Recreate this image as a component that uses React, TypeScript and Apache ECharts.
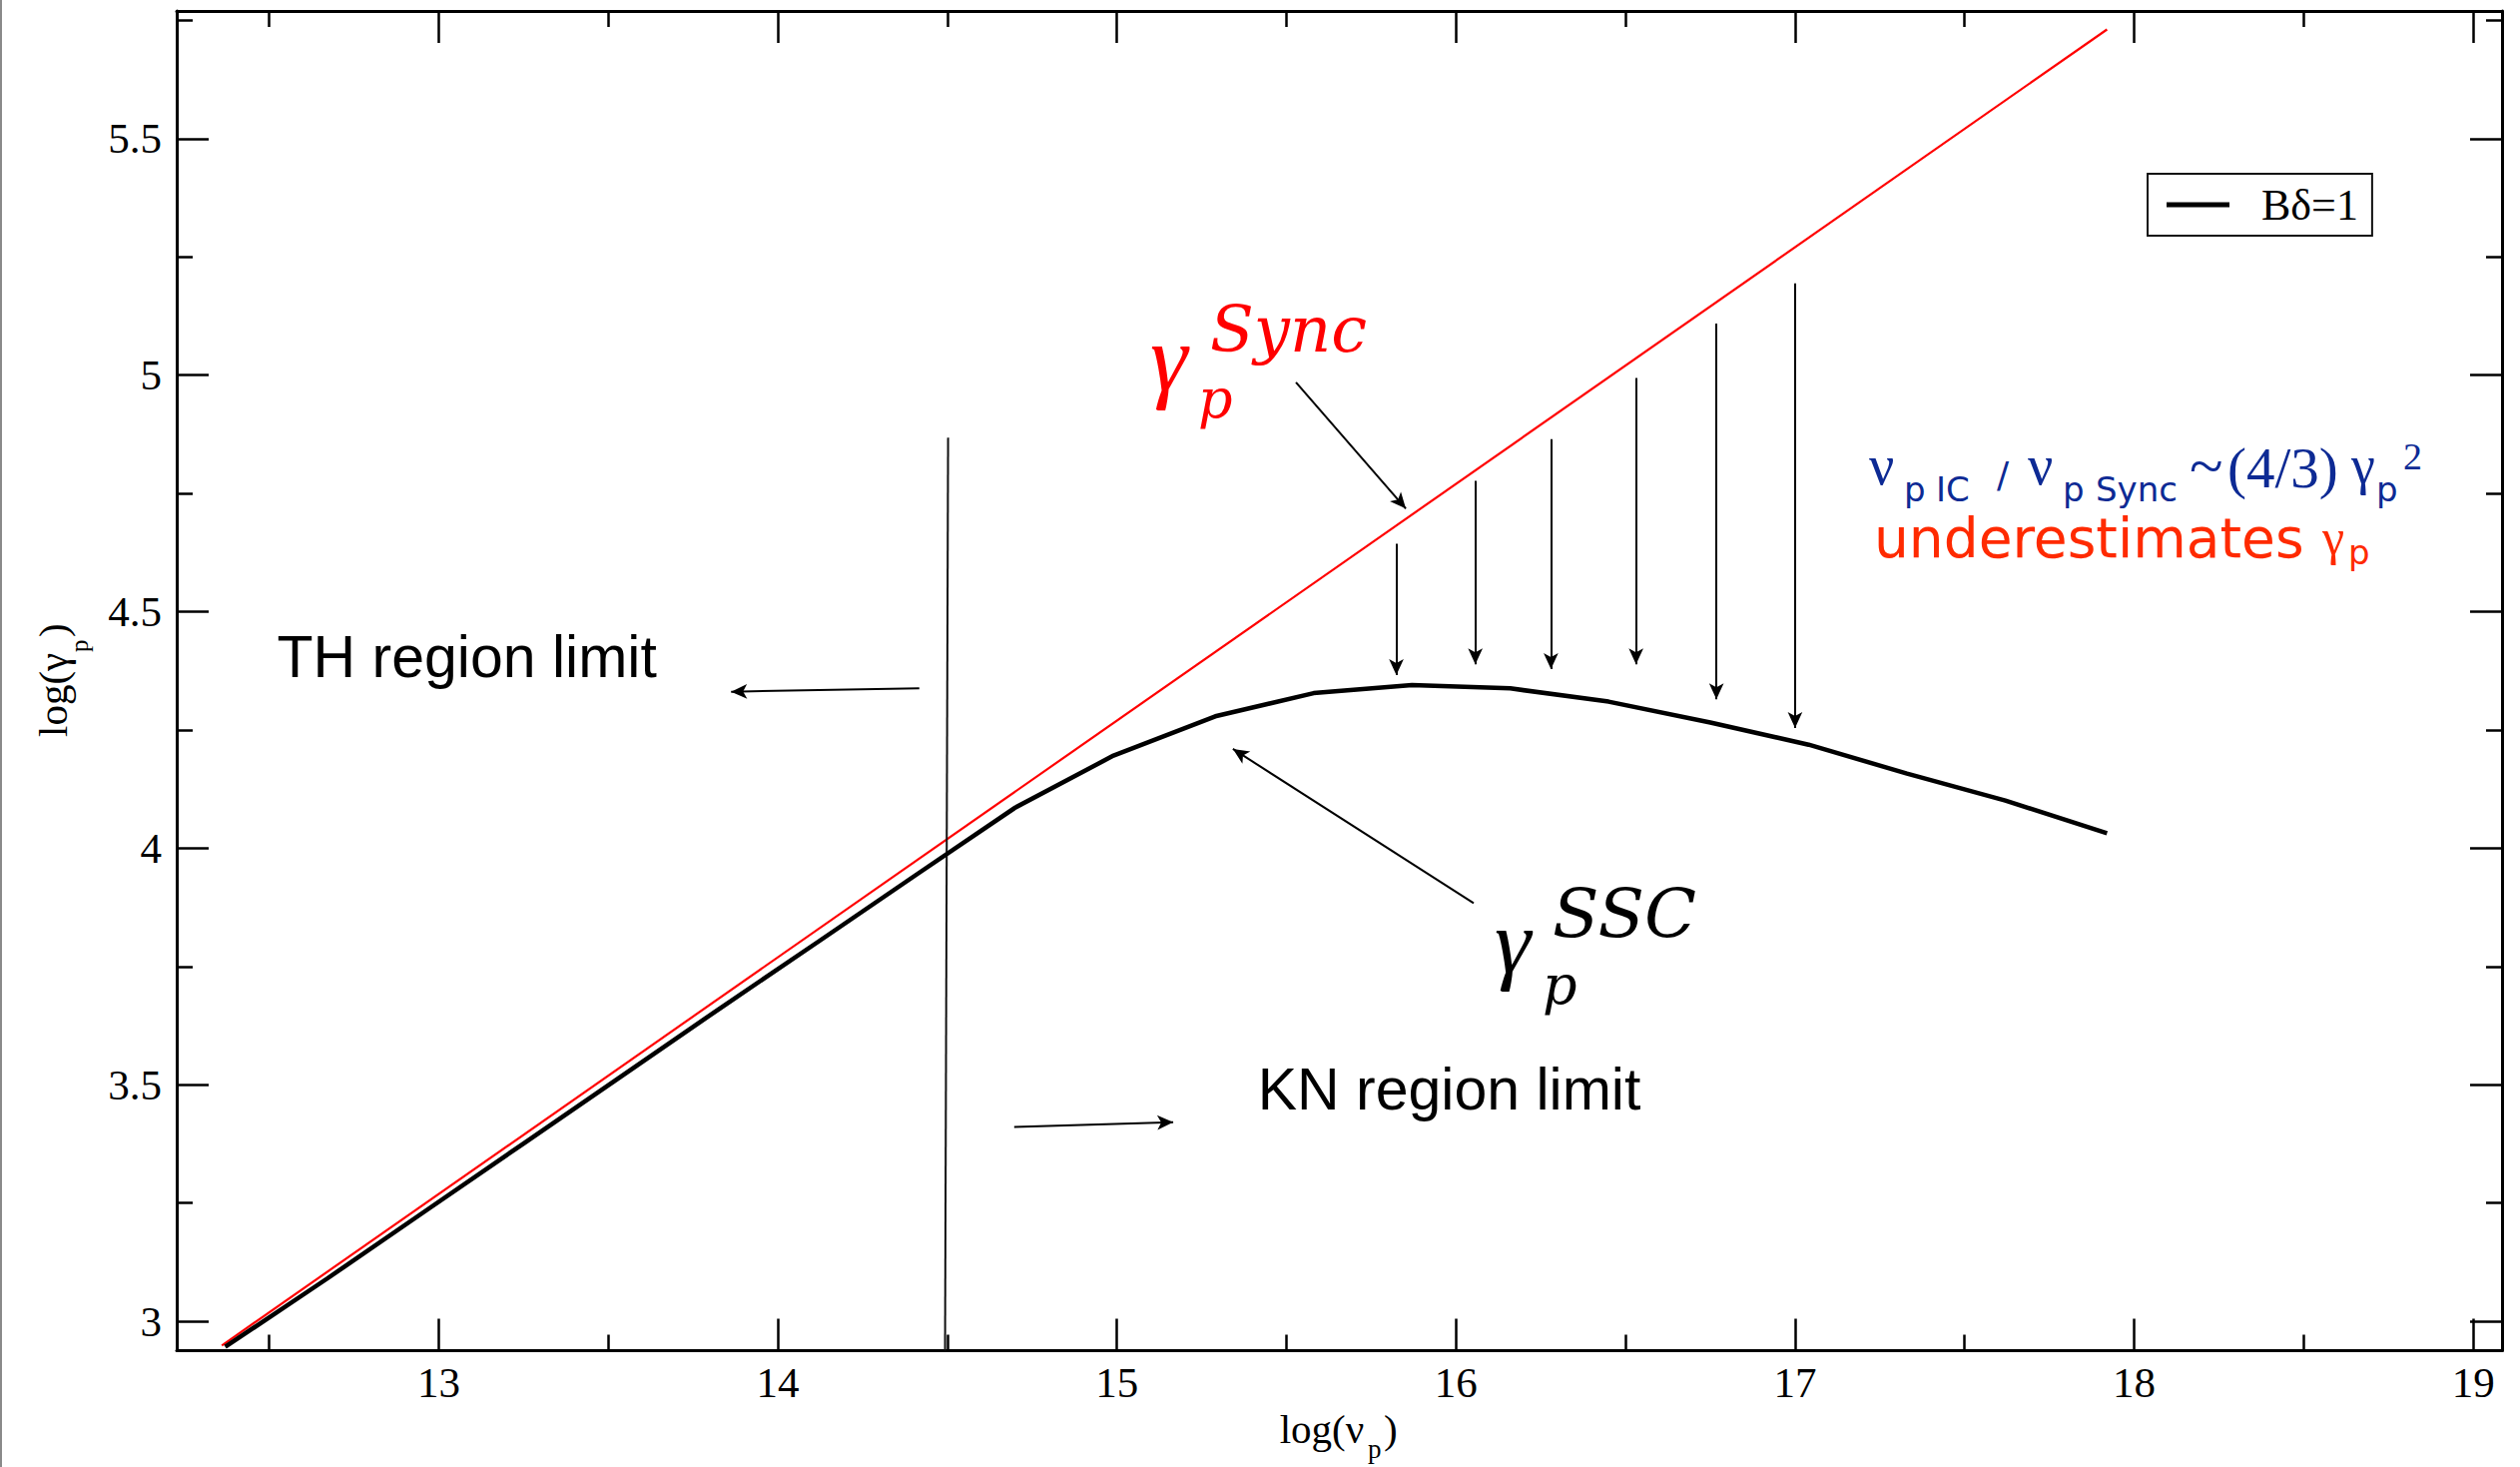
import React, { useEffect, useRef } from "react";
import * as echarts from "echarts";

// ---- data ----
const nuSSC = [12.37, 12.67, 12.96, 13.25, 13.54, 13.83, 14.12, 14.41, 14.70, 14.99, 15.29, 15.58, 15.87, 16.16, 16.45, 16.75, 17.04, 17.33, 17.62, 17.92];
const gammaSSC = [2.946, 3.090, 3.233, 3.376, 3.519, 3.662, 3.803, 3.945, 4.086, 4.196, 4.279, 4.328, 4.345, 4.338, 4.310, 4.266, 4.219, 4.158, 4.101, 4.032];
const nuSync = [12.36, 17.92];
const gammaSync = [2.949, 5.731];

// vertical limit line (TH / KN boundary)
const limitNu = [14.502, 14.493];
const limitGamma = [4.868, 2.938];

// downward arrows from Sync line to SSC curve
const dropNu = [15.824, 16.057, 16.28, 16.531, 16.768, 17.0];
const dropTop = [4.644, 4.777, 4.865, 4.994, 5.109, 5.194];
const dropBottom = [4.366, 4.389, 4.379, 4.389, 4.315, 4.254];

// other arrows: [fromNu, fromGamma, toNu, toGamma]
const thArrow = [14.417, 4.338, 13.862, 4.331];
const knArrow = [14.697, 3.411, 15.166, 3.421];
const syncArrow = [15.528, 4.985, 15.852, 4.718];
const sscArrow = [16.052, 3.884, 15.342, 4.21];

const xMajor = [13, 14, 15, 16, 17, 18, 19];
const xMinor = [12.5, 13.5, 14.5, 15.5, 16.5, 17.5, 18.5];
const yMajor = [3, 3.5, 4, 4.5, 5, 5.5];
const yMinor = [3.25, 3.75, 4.25, 4.75, 5.25, 5.75];

const X_MIN = 12.227;
const X_MAX = 19.085;
const Y_MIN = 2.938;
const Y_MAX = 5.77;

const SERIF = "Liberation Serif";
const SANS = "Liberation Sans";
const DSANS = "DejaVu Sans";
const MATH = "DejaVu Serif";
const BLUE = "#0d2a94";
const ORANGE_RED = "#ff2a00";

function txt(text: string, x: number, y: number, size: number, family: string, fill: string, fontStyle = "normal") {
  return {
    type: "text",
    x,
    y,
    z: 100,
    silent: true,
    style: {
      text,
      fontSize: size,
      fontFamily: family,
      fontStyle,
      fill,
      align: "left",
      verticalAlign: "middle",
      lineHeight: Math.round(size * 0.85),
    },
  };
}

function xAxisDef(position: string, values: number[], len: number, showLine: boolean, showLabel: boolean) {
  return {
    type: "value",
    position,
    min: X_MIN,
    max: X_MAX,
    axisLine: { show: showLine, onZero: false, lineStyle: { color: "#000", width: 3 } },
    axisTick: { show: true, inside: true, length: len, customValues: values, lineStyle: { color: "#000", width: 2.5 } },
    axisLabel: showLabel
      ? { show: true, customValues: values, margin: 10, fontSize: 43, fontFamily: SERIF, color: "#000" }
      : { show: false },
    splitLine: { show: false },
  };
}

function yAxisDef(position: string, values: number[], len: number, showLine: boolean, showLabel: boolean) {
  return {
    type: "value",
    position,
    min: Y_MIN,
    max: Y_MAX,
    axisLine: { show: showLine, onZero: false, lineStyle: { color: "#000", width: 3 } },
    axisTick: { show: true, inside: true, length: len, customValues: values, lineStyle: { color: "#000", width: 2.5 } },
    axisLabel: showLabel
      ? { show: true, customValues: values, margin: 15, fontSize: 43, fontFamily: SERIF, color: "#000" }
      : { show: false },
    splitLine: { show: false },
  };
}

function arrowPair(a: number[]) {
  return [{ coord: [a[0], a[1]] }, { coord: [a[2], a[3]] }];
}

export default function App() {
  const ref = useRef<HTMLDivElement>(null);

  useEffect(() => {
    document.body.style.margin = "0";
    if (!ref.current) return;
    const chart = echarts.init(ref.current, undefined, { renderer: "svg" });

    const arrows: any[] = [];
    dropNu.forEach((n, i) => arrows.push(arrowPair([n, dropTop[i], n, dropBottom[i]])));
    arrows.push(arrowPair(thArrow));
    arrows.push(arrowPair(knArrow));
    arrows.push(arrowPair(syncArrow));
    arrows.push(arrowPair(sscArrow));

    const option: any = {
      animation: false,
      backgroundColor: "#ffffff",
      grid: { left: 177, right: 18, top: 11, bottom: 116.5, containLabel: false, outerBoundsMode: "none" },
      xAxis: [
        xAxisDef("bottom", xMajor, 32, true, true),
        xAxisDef("bottom", xMinor, 16, false, false),
        xAxisDef("top", xMajor, 32, true, false),
        xAxisDef("top", xMinor, 16, false, false),
      ],
      yAxis: [
        yAxisDef("left", yMajor, 32, true, true),
        yAxisDef("left", yMinor, 16, false, false),
        yAxisDef("right", yMajor, 32, true, false),
        yAxisDef("right", yMinor, 16, false, false),
      ],
      legend: {
        data: [{ name: "Bδ=1", icon: "rect" }],
        left: 2151,
        top: 174,
        orient: "horizontal",
        padding: [9, 14, 9, 19],
        borderColor: "#111",
        borderWidth: 2,
        borderRadius: 0,
        itemWidth: 63,
        itemHeight: 5,
        selectedMode: false,
        itemStyle: { color: "#000", borderWidth: 0 },
        textStyle: { fontFamily: SERIF, fontSize: 44, color: "#000", padding: [0, 0, 0, 27] },
      },
      series: [
        {
          type: "line",
          name: "Sync",
          data: nuSync.map((x, i) => [x, gammaSync[i]]),
          symbol: "none",
          lineStyle: { color: "#ff0000", width: 2.2 },
          itemStyle: { color: "#ff0000" },
          z: 2,
          silent: true,
        },
        {
          type: "line",
          name: "Bδ=1",
          data: nuSSC.map((x, i) => [x, gammaSSC[i]]),
          symbol: "none",
          lineStyle: { color: "#000", width: 4.5 },
          itemStyle: { color: "#000" },
          z: 3,
          silent: true,
        },
        {
          type: "line",
          name: "limit",
          data: limitNu.map((x, i) => [x, limitGamma[i]]),
          symbol: "none",
          lineStyle: { color: "#111", width: 2 },
          z: 2,
          silent: true,
          markLine: {
            silent: true,
            symbol: ["none", "arrow"],
            symbolSize: [11, 16],
            label: { show: false },
            lineStyle: { color: "#000", width: 2, type: "solid" },
            emphasis: { disabled: true },
            data: arrows,
          },
        },
      ],
      graphic: [
        { type: "rect", shape: { x: 0, y: 0, width: 2, height: 1469 }, style: { fill: "#8a8a8a" }, silent: true },
        // axis titles
        txt("log(ν", 1281.7, 1431, 41, SERIF, "#000"),
        txt("p", 1370, 1451, 27, SERIF, "#000"),
        txt(")", 1386, 1431, 41, SERIF, "#000"),
        {
          type: "group",
          x: 66.7,
          y: 738,
          rotation: Math.PI / 2,
          children: [
            txt("log(γ", 0, -13.8, 41, SERIF, "#000"),
            txt("p", 85, 13.1, 25, SERIF, "#000"),
            txt(")", 100, -13.8, 41, SERIF, "#000"),
          ],
        },
        // region labels
        txt("TH region limit", 277.5, 658, 59, SANS, "#000"),
        txt("KN region limit", 1259.7, 1090.5, 59, SANS, "#000"),
        // gamma_p^Sync
        txt("γ", 1152, 359, 95, SERIF, "#ff0000", "italic"),
        txt("p", 1200, 399.3, 54, MATH, "#ff0000", "italic"),
        txt("Sync", 1212, 329.9, 64, MATH, "#ff0000", "italic"),
        // gamma_p^SSC
        txt("γ", 1497, 943, 92, SERIF, "#000", "italic"),
        txt("p", 1545, 986.3, 54, MATH, "#000", "italic"),
        txt("SSC", 1555, 914.5, 68, MATH, "#000", "italic"),
        // blue formula
        txt("ν", 1872, 466, 56, SERIF, BLUE),
        txt("p", 1907, 490, 34, DSANS, BLUE),
        txt("IC", 1939, 490, 34, DSANS, BLUE),
        txt("/", 2000, 475, 36, DSANS, BLUE),
        txt("ν", 2031, 466, 56, SERIF, BLUE),
        txt("p", 2066, 490, 34, DSANS, BLUE),
        txt("Sync", 2099, 490, 34, DSANS, BLUE),
        txt("~", 2193, 466, 62, SERIF, BLUE),
        txt("(4/3)", 2231, 468, 57, SERIF, BLUE),
        txt("γ", 2355, 466, 54, SERIF, BLUE),
        txt("p", 2380, 490, 34, DSANS, BLUE),
        txt("2", 2407, 457, 38, SERIF, BLUE),
        // red comment
        txt("underestimates", 1877, 539.3, 55, DSANS, ORANGE_RED),
        txt("γ", 2326, 538, 50, SERIF, ORANGE_RED),
        txt("p", 2352, 553, 34, DSANS, ORANGE_RED),
      ],
    };

    chart.setOption(option);
    return () => {
      chart.dispose();
    };
  }, []);

  return <div ref={ref} style={{ width: 2524, height: 1469, display: "block" }} />;
}
